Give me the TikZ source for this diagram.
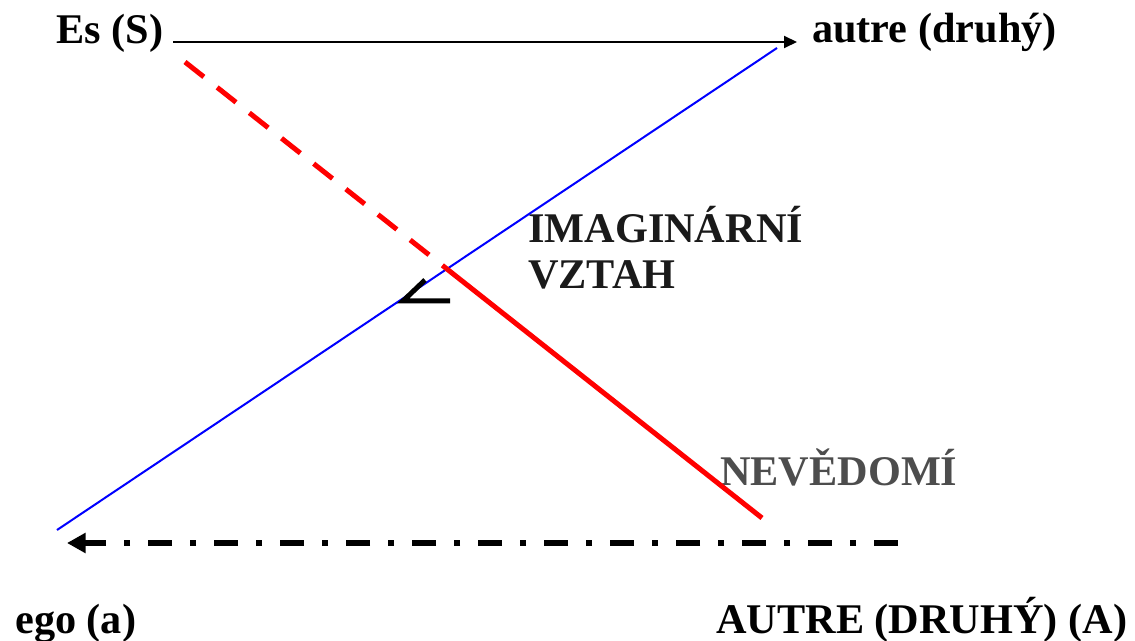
\documentclass[tikz,border=0pt]{standalone}
\usepackage{fontspec}
\setmainfont{Liberation Serif}
\usetikzlibrary{arrows.meta, positioning}
\definecolor{unconsgray}{HTML}{4D4D4D}
\definecolor{imagtext}{HTML}{1A1A1A}

\begin{document}
\begin{tikzpicture}[
    x=0.75pt, y=-0.75pt,
    lbl/.style={inner sep=0pt, anchor=base west, font=\fontsize{31.7}{36}\selectfont\bfseries},
    symbolic/.style={-{Triangle[length=9.75pt, width=9pt]}, line width=1.5pt},
    realline/.style={-{Triangle[length=14pt, width=14.5pt]}, line width=4pt, dash pattern=on 18pt off 13.5pt on 4.5pt off 13.5pt},
    imagline/.style={blue, line width=1.5pt},
    unconsc/.style={red, line width=3.75pt},
    anglemark/.style={line width=3.75pt, line join=miter}
]
    \useasboundingbox (0,0) rectangle (1135,641);

    \node[lbl] (es) at (56,44) {Es (S)};
    \node[lbl] (autre) at (812,43) {autre (druhý)};
    \node[lbl] (ego) at (15,633) {ego (a)};
    \node[lbl] (Autre) at (716,633) {AUTRE (DRUHÝ) (A)};
    \node[lbl, text=imagtext] (imag) at (528,243) {IMAGINÁRNÍ};
    \node[lbl, text=imagtext] (vztah) at (528,289) {VZTAH};
    \node[lbl, text=unconsgray] (nevedomi) at (720,485) {NEVĚDOMÍ};

    \coordinate (egoEnd) at (57,530);
    \coordinate (autreEnd) at (777,48);
    \coordinate (esEnd) at (185,62);
    \coordinate (unconsEnd) at (762,518);
    \coordinate (cross) at (intersection of egoEnd--autreEnd and esEnd--unconsEnd);
    \coordinate (realStart) at (898,543);
    \coordinate (realEnd) at (67,543);

    \draw[symbolic, shorten <=7.5pt, shorten >=11.25pt] (es.east |- 0,42) -- (autre.west |- 0,42);
    \draw[imagline] (egoEnd) -- (autreEnd);
    \draw[unconsc, dash pattern=on 18pt off 12.75pt] (esEnd) -- (cross);
    \draw[unconsc] (cross) -- (unconsEnd);
    \draw[anglemark] (425,280) -- (403,301) -- (450,301);
    \draw[realline] (realStart) -- (realEnd);
\end{tikzpicture}
\end{document}
